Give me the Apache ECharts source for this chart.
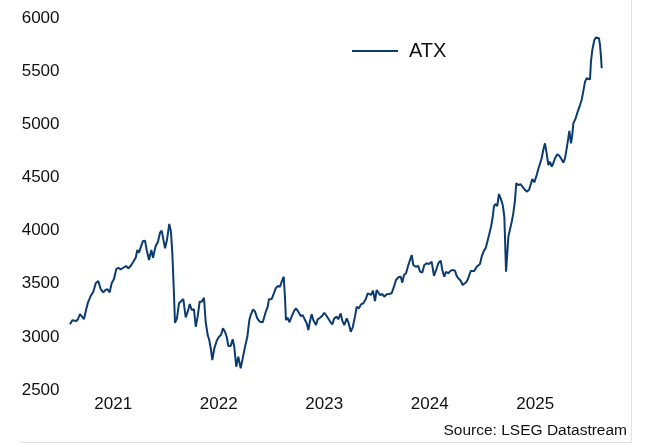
<!DOCTYPE html>
<html>
<head>
<meta charset="utf-8">
<script src="https://cdn.jsdelivr.net/npm/echarts@6/dist/echarts.min.js"></script>
<style>
html,body{margin:0;padding:0;background:#fff;}
#c{width:645px;height:443px;}
</style>
</head>
<body>
<div id="c"></div>
<script>
// Decimal years (time) and ATX index levels
var years = [
2021.090,2021.112,2021.128,2021.150,2021.166,2021.185,2021.201,2021.223,2021.242,2021.261,
2021.286,2021.311,2021.334,2021.358,2021.381,2021.406,2021.425,2021.444,2021.466,2021.485,
2021.507,2021.529,2021.548,2021.571,2021.595,2021.621,2021.643,2021.665,2021.690,2021.713,
2021.728,2021.744,2021.766,2021.782,2021.801,2021.817,2021.839,2021.861,2021.877,2021.902,
2021.924,2021.943,2021.959,2021.974,2021.991,2022.009,2022.031,2022.047,2022.060,2022.073,
2022.085,2022.104,2022.123,2022.145,2022.164,2022.187,2022.206,2022.225,2022.244,2022.265,
2022.282,2022.300,2022.319,2022.338,2022.360,2022.376,2022.395,2022.410,2022.427,2022.439,
2022.458,2022.481,2022.502,2022.521,2022.540,2022.559,2022.575,2022.591,2022.613,2022.632,
2022.647,2022.666,2022.685,2022.708,2022.727,2022.749,2022.771,2022.790,2022.803,2022.825,
2022.844,2022.865,2022.891,2022.917,2022.932,2022.948,2022.964,2022.976,2023.002,2023.017,
2023.040,2023.059,2023.081,2023.097,2023.116,2023.128,2023.137,2023.154,2023.169,2023.191,
2023.213,2023.232,2023.254,2023.277,2023.296,2023.318,2023.334,2023.349,2023.365,2023.381,
2023.396,2023.422,2023.438,2023.460,2023.481,2023.500,2023.523,2023.538,2023.557,2023.576,
2023.595,2023.618,2023.633,2023.656,2023.671,2023.690,2023.713,2023.732,2023.751,2023.770,
2023.791,2023.808,2023.829,2023.848,2023.870,2023.893,2023.912,2023.927,2023.943,2023.962,
2023.981,2023.997,2024.012,2024.028,2024.050,2024.069,2024.092,2024.114,2024.139,2024.161,
2024.180,2024.202,2024.225,2024.240,2024.256,2024.275,2024.297,2024.313,2024.329,2024.344,
2024.367,2024.392,2024.408,2024.429,2024.448,2024.471,2024.493,2024.518,2024.540,2024.566,
2024.581,2024.604,2024.619,2024.638,2024.654,2024.676,2024.699,2024.718,2024.739,2024.755,
2024.771,2024.793,2024.812,2024.827,2024.850,2024.865,2024.888,2024.903,2024.922,2024.945,
2024.960,2024.976,2024.992,2025.014,2025.030,2025.045,2025.062,2025.081,2025.097,2025.109,
2025.125,2025.140,2025.156,2025.172,2025.192,2025.207,2025.213,2025.223,2025.235,2025.245,
2025.261,2025.277,2025.292,2025.308,2025.320,2025.339,2025.362,2025.396,2025.419,2025.441,
2025.460,2025.472,2025.491,2025.514,2025.529,2025.545,2025.561,2025.576,2025.592,2025.608,
2025.624,2025.640,2025.656,2025.671,2025.687,2025.709,2025.728,2025.744,2025.766,2025.782,
2025.798,2025.813,2025.823,2025.839,2025.851,2025.861,2025.883,2025.902,2025.924,2025.940,
2025.955,2025.972,2025.988,2026.003,2026.019,2026.028,2026.041,2026.060,2026.076,2026.092,
2026.104,2026.114,2026.123,2026.130
];
var atx = [
3118,3156,3165,3149,3168,3215,3215,3168,3253,3325,
3384,3425,3504,3525,3450,3419,3440,3450,3419,3504,
3544,3638,3650,3635,3650,3667,3645,3667,3707,3745,
3817,3792,3858,3902,3905,3817,3723,3817,3745,3855,
3895,3980,3999,3984,3833,3911,4062,3990,3786,3472,
3133,3174,3316,3337,3356,3184,3237,3309,3253,3259,
3095,3190,3331,3331,3368,3142,3017,2970,2876,2782,
2892,2964,3001,3017,3080,3048,3001,2914,2914,2977,
2907,2719,2813,2704,2798,2907,3001,3158,3205,3259,
3237,3174,3142,3137,3190,3243,3284,3353,3356,3394,
3457,3478,3472,3519,3566,3363,3158,3180,3137,3190,
3243,3268,3237,3196,3205,3158,3127,3064,3149,3212,
3158,3111,3165,3180,3199,3227,3196,3180,3142,3118,
3174,3190,3165,3221,3152,3111,3174,3127,3048,3090,
3190,3284,3268,3306,3316,3353,3410,3425,3394,3434,
3337,3441,3447,3394,3403,3378,3400,3403,3410,3472,
3535,3560,3566,3510,3582,3598,3676,3723,3770,3676,
3660,3667,3613,3604,3676,3692,3685,3707,3573,3645,
3692,3717,3629,3566,3613,3598,3623,3629,3623,3573,
3551,3528,3488,3504,3519,3551,3620,3636,3620,3660,
3645,3685,3754,3811,3833,3817,3958,4036,4130,4231,
4250,4231,4344,4303,4240,4130,3942,3613,3786,3942,
4012,4083,4162,4287,4444,4429,4435,4391,4366,4382,
4444,4485,4454,4523,4579,4570,4680,4758,4821,4727,
4617,4648,4601,4633,4680,4717,4704,4680,4639,4680,
4774,4868,4937,4821,4899,5009,5056,5118,5181,5228,
5307,5401,5433,5438,5423,5589,5699,5793,5818,5824,
5809,5746,5636,5527
];
var yearLabels = ['2021','2022','2023','2024','2025'];
var seriesName = 'ATX';
var sourceText = 'Source: LSEG Datastream';

var data = years.map(function(y, i){ return [y, atx[i]]; });

var chart = echarts.init(document.getElementById('c'), null, {renderer:'canvas'});
var fontFam = '"Liberation Sans", Arial, sans-serif';
chart.setOption({
  animation: false,
  backgroundColor: '#ffffff',
  grid: {left: 60.5, right: 14.8, top: 18, bottom: 53, containLabel: false},
  legend: {
    data: [seriesName],
    left: 347, top: 36,
    itemWidth: 46, itemHeight: 2, itemGap: 10,
    icon: 'rect',
    textStyle: {fontSize: 20, color: '#111', fontFamily: fontFam, padding: [0,0,0,6]}
  },
  xAxis: {
    type: 'value', min: 2021, max: 2026.4, interval: 0.5,
    axisLine: {show: false}, axisTick: {show: false}, splitLine: {show: false},
    axisLabel: {
      fontSize: 17, color: '#111', fontFamily: fontFam, margin: 6,
      showMinLabel: true, showMaxLabel: false,
      formatter: function(v){
        var f = Math.floor(v);
        if (Math.abs(v - f - 0.5) < 1e-6) {
          var idx = yearLabels.indexOf(String(f));
          return idx >= 0 ? yearLabels[idx] : '';
        }
        return '';
      }
    }
  },
  yAxis: {
    type: 'value', min: 2500, max: 6000, interval: 500,
    axisLine: {show: false}, axisTick: {show: false}, splitLine: {show: false},
    axisLabel: {fontSize: 17, color: '#111', fontFamily: fontFam, margin: 1,
      formatter: function(v){ return String(v); }}
  },
  series: [{
    name: seriesName, type: 'line', data: data,
    showSymbol: false, symbol: 'none', smooth: false,
    lineStyle: {color: '#0b3b6f', width: 2},
    itemStyle: {color: '#0b3b6f'}
  }],
  graphic: [
    {type: 'line', shape: {x1: 631.5, y1: 0, x2: 631.5, y2: 443}, style: {stroke: '#d9e2ee', lineWidth: 1}, silent: true},
    {type: 'line', shape: {x1: 20, y1: 442.5, x2: 632, y2: 442.5}, style: {stroke: '#d9e2ee', lineWidth: 1}, silent: true},
    {type: 'text', right: 18, top: 423, style: {text: sourceText, fontSize: 15.5, fill: '#111', fontFamily: fontFam, textAlign: 'right'}}
  ]
});
</script>
</body>
</html>
